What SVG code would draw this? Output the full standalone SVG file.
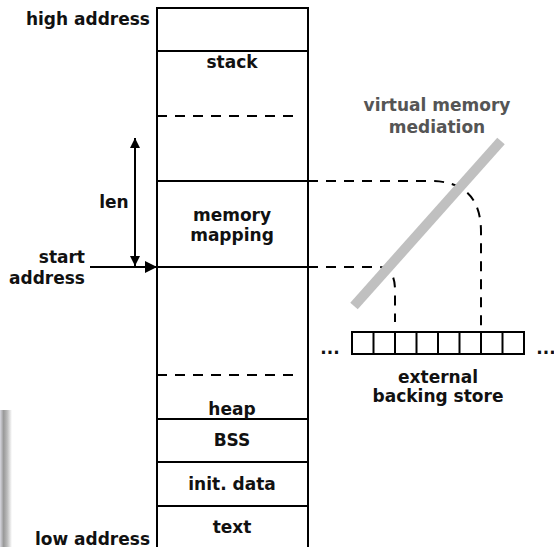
<svg xmlns="http://www.w3.org/2000/svg" width="554" height="547" viewBox="0 0 554 547">
<style>
text{font-family:"DejaVu Sans","Liberation Sans",sans-serif;font-weight:bold;font-size:17px;fill:#111}
.c{text-anchor:middle}
.r{text-anchor:end}
.s{stroke:#000;stroke-width:2;fill:none}
.d{stroke:#000;stroke-width:2;fill:none;stroke-dasharray:10,8}
.g{fill:#555}
</style>
<defs>
<linearGradient id="sh" x1="0" y1="0" x2="1" y2="0">
<stop offset="0" stop-color="#d8d8e0"/>
<stop offset="0.3" stop-color="#999"/>
<stop offset="0.6" stop-color="#bbb"/>
<stop offset="1" stop-color="#fff"/>
</linearGradient>
<marker id="ah" viewBox="0 0 10 10" refX="10" refY="5" markerWidth="5" markerHeight="5" orient="auto" markerUnits="strokeWidth">
<path d="M0,0 L10,5 L0,10 z" fill="#000"/>
</marker>
<marker id="ab" viewBox="0 0 10 10" refX="10" refY="5" markerWidth="6" markerHeight="6" orient="auto" markerUnits="strokeWidth">
<path d="M0,0 L10,5 L0,10 z" fill="#000"/>
</marker>
</defs>
<rect x="0" y="410" width="12" height="137" fill="url(#sh)"/>
<g id="column">
<rect x="157" y="8" width="151" height="545" class="s"/>
<line x1="157" y1="51" x2="308" y2="51" class="s"/>
<line x1="157" y1="116" x2="300" y2="116" class="d"/>
<line x1="157" y1="181" x2="308" y2="181" class="s"/>
<line x1="157" y1="267" x2="308" y2="267" class="s"/>
<line x1="157" y1="375" x2="300" y2="375" class="d"/>
<line x1="157" y1="419" x2="308" y2="419" class="s"/>
<line x1="157" y1="462" x2="308" y2="462" class="s"/>
<line x1="157" y1="506" x2="308" y2="506" class="s"/>
</g>
<g id="labels">
<text x="150" y="25" class="r">high address</text>
<text x="232" y="68" class="c">stack</text>
<text x="114" y="208" class="c">len</text>
<text x="232" y="221" class="c">memory</text>
<text x="232" y="241" class="c">mapping</text>
<text x="85" y="263" class="r">start</text>
<text x="85" y="284" class="r">address</text>
<text x="232" y="415" class="c">heap</text>
<text x="232" y="446" class="c">BSS</text>
<text x="232" y="490" class="c">init. data</text>
<text x="232" y="533" class="c">text</text>
<text x="150" y="545" class="r">low address</text>
<text x="437" y="111" class="c g">virtual memory</text>
<text x="437" y="133" class="c g">mediation</text>
<text x="438" y="383" class="c">external</text>
<text x="438" y="402" class="c">backing store</text>
<text x="330" y="354" class="c">...</text>
<text x="546" y="354" class="c">...</text>
</g>
<g id="connectors">
<path d="M308,181 H430 Q481,181 481,232 V332" class="d"/>
<path d="M308,267 H378 Q395,267 395,290 V322" class="d"/>
<line x1="90" y1="267" x2="157" y2="267" stroke="#000" stroke-width="2" marker-end="url(#ab)"/>
<line x1="135" y1="200" x2="135" y2="138" stroke="#000" stroke-width="2" marker-end="url(#ah)"/>
<line x1="135" y1="200" x2="135" y2="266" stroke="#000" stroke-width="2" marker-end="url(#ah)"/>
</g>
<line id="mediation" x1="354" y1="306" x2="501" y2="141" stroke="#c0c0c0" stroke-width="10"/>
<g id="backing-store">
<rect x="352" y="332" width="172" height="22" class="s"/>
<line x1="373.5" y1="332" x2="373.5" y2="354" class="s"/>
<line x1="395" y1="332" x2="395" y2="354" class="s"/>
<line x1="416.5" y1="332" x2="416.5" y2="354" class="s"/>
<line x1="438" y1="332" x2="438" y2="354" class="s"/>
<line x1="459.5" y1="332" x2="459.5" y2="354" class="s"/>
<line x1="481" y1="332" x2="481" y2="354" class="s"/>
<line x1="502.5" y1="332" x2="502.5" y2="354" class="s"/>
</g>
</svg>
